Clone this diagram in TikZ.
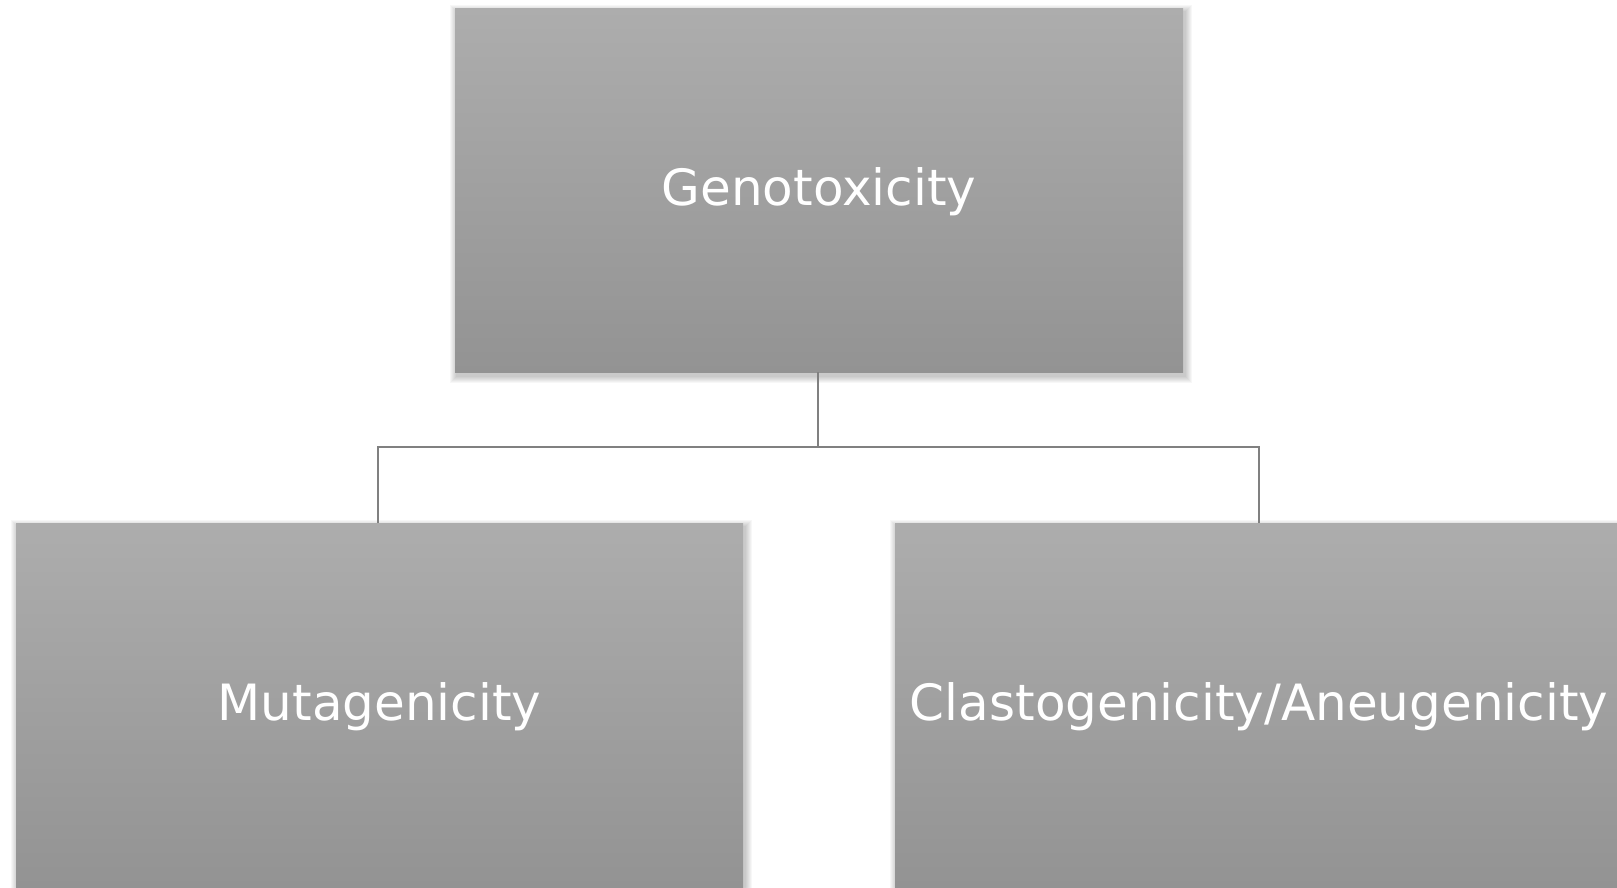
\documentclass[tikz,border=0pt]{standalone}
\usepackage{fontspec}
\setmainfont{DejaVu Sans}
\definecolor{boxtop}{HTML}{ADADAD}
\definecolor{boxbot}{HTML}{939393}
\definecolor{linegray}{HTML}{808080}
\tikzset{
  box/.style={inner sep=0pt, outer sep=0pt, top color=boxtop, bottom color=boxbot, draw=none},
  lbl/.style={text=white, font=\fontsize{50}{60}\selectfont, anchor=base},
  conn/.style={draw=linegray, line width=2.6pt},
}
\newcommand{\softshadow}[4]{% x1 y1 x2 y2
  \foreach \d in {1,2,...,7}{
    \fill[black, opacity=0.03] (#1+2-\d,#2+4-\d) rectangle (#3+2+\d,#4+4+\d);
  }
}
\begin{document}
\begin{tikzpicture}[x=1pt,y=-1pt]
\useasboundingbox (0,0) rectangle (1617,887);
\begin{scope}
\clip (0,0) rectangle (1617,887);
\fill[white] (0,0) rectangle (1617,887);
\softshadow{455}{8}{1183}{372}
\softshadow{16}{523}{743}{892}
\softshadow{895}{523}{1623}{892}
\node[box, minimum width=728pt, minimum height=364pt, anchor=north west] (top) at (455,8) {};
\node[box, minimum width=727pt, minimum height=364pt, anchor=north west] (left) at (16,523) {};
\node[box, minimum width=728pt, minimum height=364pt, anchor=north west] (right) at (895,523) {};
\node[lbl] (ttop) at ([yshift=-15pt]top.center) {Genotoxicity};
\node[lbl] (tleft) at ([yshift=-15pt]left.center) {Mutagenicity};
\node[lbl] (tright) at ([yshift=-15pt]right.center) {Clastogenicity/Aneugenicity};
\coordinate (mid) at (818,447);
\draw[conn] (top.south -| mid) -- (mid);
\draw[conn] (left.north -| 378,0) |- (mid) -| (right.north -| 1259,0);
\end{scope}
\end{tikzpicture}
\end{document}
